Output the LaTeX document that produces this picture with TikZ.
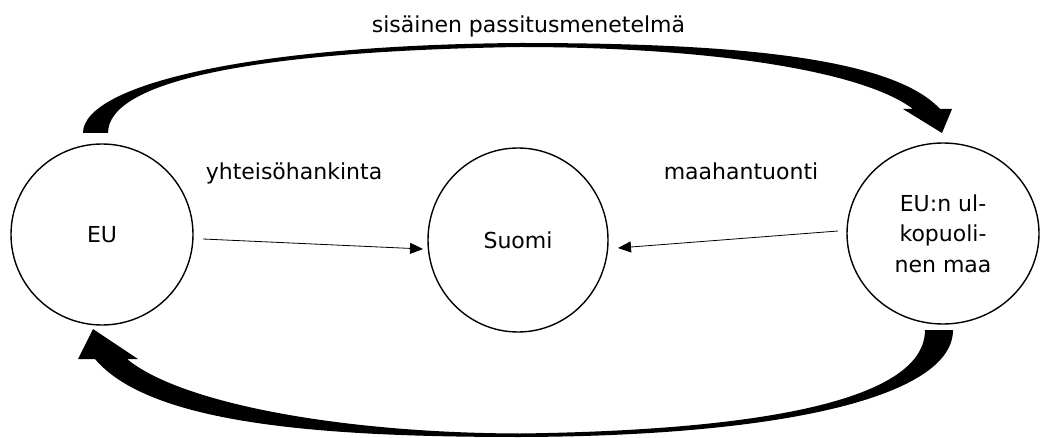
\documentclass[tikz,border=0pt]{standalone}
\usepackage{fontspec}
\setmainfont{DejaVu Sans}
\usetikzlibrary{shapes.geometric,arrows.meta}
\tikzset{
  circ/.style={ellipse, draw=black, line width=1.4pt, inner sep=0pt, align=center,
    font=\fontsize{22}{30.5}\selectfont},
  lbl/.style={font=\fontsize{22}{26}\selectfont, inner sep=0pt, anchor=base},
  thinarrow/.style={draw=black, line width=0.8pt, -{Triangle[length=13pt,width=11pt]}},
  blockarrow/.style={fill=black, draw=none}
}
\begin{document}
\begin{tikzpicture}[x=1pt,y=-1pt]
\useasboundingbox (0,0) rectangle (1040,438);
% circles
\node[circ, minimum width=182pt, minimum height=181pt] (eu) at (102,234.5) {EU};
\node[circ, minimum width=180pt, minimum height=184pt] (suomi) at (518,240) {Suomi};
\node[circ, minimum width=192pt, minimum height=181pt] (ulko) at (943,233.5) {EU:n ul-\\kopuoli-\\nen maa};
% labels
\node[lbl] (t1) at (528.5,33) {sisäinen passitusmenetelmä};
\node[lbl] (t2) at (294,180) {yhteisöhankinta};
\node[lbl] (t3) at (741,180) {maahantuonti};
% straight arrows
\coordinate (a1s) at (203,239);
\coordinate (a1e) at (423,249);
\coordinate (a2s) at (838,231);
\coordinate (a2e) at (618,248);
\draw[thinarrow] (a1s) -- (a1e);
\draw[thinarrow] (a2s) -- (a2e);
% top curved block arrow (EU -> EU:n ulkopuolinen maa)
\fill[blockarrow] (83,133) .. controls (83,85) and (250,45) .. (520,43)
  .. controls (720,43) and (890,55) .. (940,109)
  -- (952,109) -- (942,133) -- (903,109) -- (913,109)
  .. controls (860,69) and (700,47) .. (520,47)
  .. controls (260,51) and (108,80) .. (108,133) -- cycle;
% bottom curved block arrow (EU:n ulkopuolinen maa -> EU)
\fill[blockarrow] (953,330) .. controls (953,395) and (790,436) .. (520,437)
  .. controls (320,437) and (150,424) .. (95,359)
  -- (78,359) -- (93,329) -- (138,359) -- (127,359)
  .. controls (180,403) and (340,433) .. (520,433.5)
  .. controls (780,430) and (925,396) .. (925,330) -- cycle;
\end{tikzpicture}
\end{document}
